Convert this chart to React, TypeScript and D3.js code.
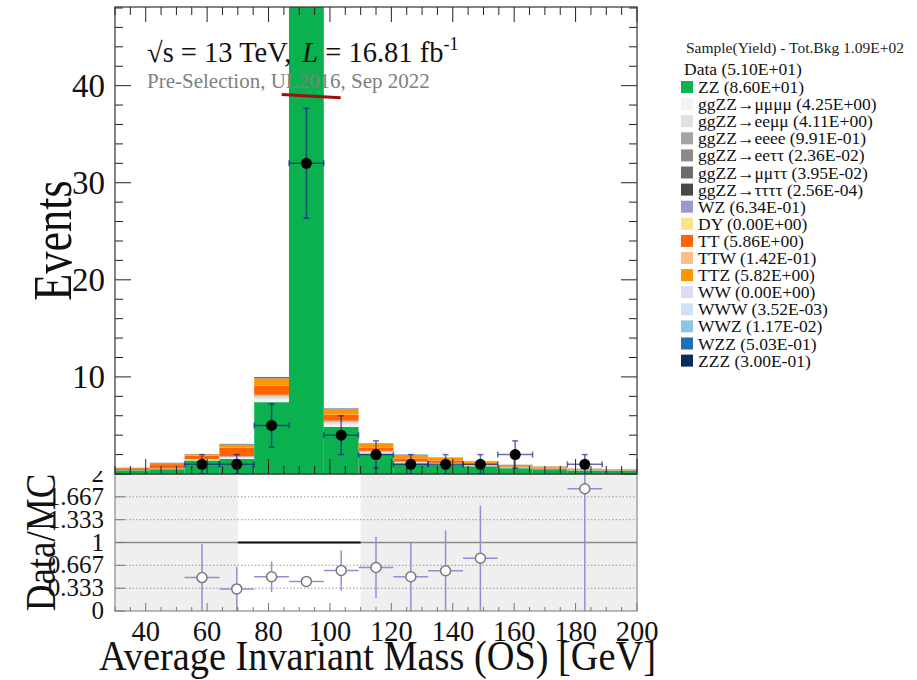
import React from 'react';
import * as d3 from 'd3';

// Bin edges of the average invariant mass histogram [GeV]
const binEdges = [30, 41.33, 52.67, 64, 75.33, 86.67, 98, 109.33, 120.67, 132, 143.33, 154.67, 166, 177.33, 188.67, 200];

// Observed events per bin
const dataCounts = [0, 0, 1, 1, 5, 32, 4, 2, 1, 1, 1, 2, 0, 1, 0];

// Expected yields per bin, one array per process (stacked bottom to top)
const zz = [0.38, 0.5, 1.4, 1.55, 7.4, 63.09, 4.85, 2.1, 1.1, 1.0, 0.8, 0.6, 0.5, 0.36, 0.35];
const ggZZ4mu = [0.01, 0.02, 0.05, 0.1, 0.3, 3.202, 0.25, 0.1, 0.06, 0.05, 0.04, 0.03, 0.02, 0.01, 0.01];
const ggZZ2e2mu = [0.01, 0.02, 0.05, 0.1, 0.3, 3.06, 0.25, 0.1, 0.06, 0.05, 0.04, 0.03, 0.02, 0.01, 0.01];
const ggZZ4e = [0, 0.005, 0.01, 0.03, 0.07, 0.72, 0.06, 0.03, 0.02, 0.015, 0.01, 0.008, 0.006, 0.004, 0.003];
const ggZZ2e2tau = [0, 0, 0.002, 0.003, 0.004, 0.005, 0.004, 0.002, 0.001, 0.001, 0.0006, 0.0005, 0.0002, 0.0002, 0.0001];
const ggZZ2mu2tau = [0, 0.001, 0.003, 0.005, 0.007, 0.008, 0.006, 0.004, 0.002, 0.0015, 0.001, 0.0005, 0.0003, 0.0001, 0.0001];
const ggZZ4tau = [0, 0, 0, 0, 0.0001, 0.000156, 0, 0, 0, 0, 0, 0, 0, 0, 0];
const wz = [0.01, 0.02, 0.03, 0.05, 0.08, 0.18, 0.08, 0.05, 0.04, 0.03, 0.02, 0.015, 0.012, 0.01, 0.007];
const dy = [0, 0, 0, 0, 0, 0, 0, 0, 0, 0, 0, 0, 0, 0, 0];
const tt = [0.18, 0.45, 0.35, 0.85, 0.9, 1.1, 0.6, 0.35, 0.33, 0.25, 0.18, 0.11, 0.09, 0.07, 0.05];
const ttw = [0, 0.01, 0.01, 0.02, 0.02, 0.017, 0.015, 0.01, 0.01, 0.008, 0.006, 0.005, 0.004, 0.004, 0.003];
const ttz = [0.05, 0.1, 0.12, 0.33, 0.78, 2.33, 0.58, 0.36, 0.34, 0.27, 0.18, 0.13, 0.11, 0.08, 0.06];
const ww = [0, 0, 0, 0, 0, 0, 0, 0, 0, 0, 0, 0, 0, 0, 0];
const www = [0, 0, 0, 0.0005, 0.001, 0.0012, 0.0005, 0.00032, 0, 0, 0, 0, 0, 0, 0];
const wwz = [0.0003, 0.0005, 0.0007, 0.001, 0.002, 0.003, 0.0015, 0.0008, 0.0006, 0.0004, 0.0003, 0.0002, 0.0002, 0.0001, 0.0001];
const wzz = [0.005, 0.014, 0.015, 0.04, 0.08, 0.198, 0.035, 0.03, 0.025, 0.015, 0.012, 0.012, 0.01, 0.008, 0.004];
const zzz = [0.005, 0.01, 0.01, 0.02, 0.05, 0.117, 0.02, 0.014, 0.012, 0.01, 0.01, 0.009, 0.006, 0.004, 0.003];

const processNames = ['ZZ', 'ggZZ\u2192\u03bc\u03bc\u03bc\u03bc', 'ggZZ\u2192ee\u03bc\u03bc', 'ggZZ\u2192eeee', 'ggZZ\u2192ee\u03c4\u03c4', 'ggZZ\u2192\u03bc\u03bc\u03c4\u03c4', 'ggZZ\u2192\u03c4\u03c4\u03c4\u03c4', 'WZ', 'DY', 'TT', 'TTW', 'TTZ', 'WW', 'WWW', 'WWZ', 'WZZ', 'ZZZ'];
const processColors = ['#0bb04f', '#f3f3f3', '#e0e0e0', '#a4a4a4', '#8a8a8a', '#6c6c6c', '#484848', '#9b98cc', '#fde38a', '#ff6400', '#fdbf86', '#ff9500', '#dcdcf4', '#cfe2f3', '#8ec6e0', '#1f6fb4', '#0b2d5b'];
const processValues = [zz, ggZZ4mu, ggZZ2e2mu, ggZZ4e, ggZZ2e2tau, ggZZ2mu2tau, ggZZ4tau, wz, dy, tt, ttw, ttz, ww, www, wwz, wzz, zzz];

// Axis ticks and labels
const xTickLabels = [40, 60, 80, 100, 120, 140, 160, 180, 200];
const yTickLabels = [10, 20, 30, 40];
const ratioTicks = [0, 0.333, 0.667, 1, 1.333, 1.667, 2];
const ratioTickLabels = ['0', '0.333', '0.667', '1', '1.333', '1.667', '2'];
const ratioGrid = [0.333, 0.667, 1.333, 1.667];
// Mass window left unshaded in the ratio pad
const zWindow = [70, 110];
// Line drawn across the peak (mass, events)
const peakLine = [
  { m: 84.3, v: 39.1 },
  { m: 103.5, v: 38.76 },
];

const FONT = "'Liberation Serif', 'Times New Roman', serif";

function sci(v: number): string {
  const [mant, ex] = v.toExponential(2).split('e');
  const n = parseInt(ex, 10);
  return `${mant}E${n < 0 ? '-' : '+'}${String(Math.abs(n)).padStart(2, '0')}`;
}

export default function App() {
  const L = 115, R = 637, T = 7, MID = 474, B = 611;
  const x = d3.scaleLinear().domain([30, 200]).range([L, R]);
  const y = d3.scaleLinear().domain([0, 48.1]).range([MID, T]);
  const yr = d3.scaleLinear().domain([0, 2]).range([B, MID]);

  const nb = dataCounts.length;
  const bins = d3.range(nb).map((i) => ({ lo: binEdges[i], hi: binEdges[i + 1], c: (binEdges[i] + binEdges[i + 1]) / 2 }));
  const totals = bins.map((_, i) => d3.sum(processValues, (p) => p[i]));
  const totBkg = d3.sum(totals);
  const totData = d3.sum(dataCounts);

  // stacked rectangles
  const stackRects: JSX.Element[] = [];
  bins.forEach((b, i) => {
    let base = 0;
    processValues.forEach((vals, k) => {
      const v = vals[i];
      if (v <= 0) return;
      const y0 = y(base), y1 = y(base + v);
      stackRects.push(
        <rect key={`s${i}-${k}`} x={x(b.lo)} y={y1} width={x(b.hi) - x(b.lo)} height={Math.max(0, y0 - y1)} fill={processColors[k]} />
      );
      base += v;
    });
  });

  // main-pad ticks
  const xMinor = d3.range(30, 201, 5);
  const yMinor = d3.range(0, 48.1, 2);
  const mainTicks: JSX.Element[] = [];
  xMinor.forEach((m) => {
    const len = m % 20 === 0 ? 15 : 8;
    mainTicks.push(<line key={`xb${m}`} x1={x(m)} x2={x(m)} y1={MID} y2={MID - len} />);
    mainTicks.push(<line key={`xt${m}`} x1={x(m)} x2={x(m)} y1={T} y2={T + len} />);
  });
  yMinor.forEach((v) => {
    const len = v % 10 === 0 ? 16 : 8;
    mainTicks.push(<line key={`yl${v}`} x1={L} x2={L + len} y1={y(v)} y2={y(v)} />);
    mainTicks.push(<line key={`yr${v}`} x1={R} x2={R - len} y1={y(v)} y2={y(v)} />);
  });

  const errColor = 'rgba(20,20,140,0.62)';
  const cap = 3;

  const legendRows = processNames.map((n, k) => ({ name: n, color: processColors[k], y: d3.sum(processValues[k]) }));

  return (
    <svg width={917} height={680} style={{ position: 'absolute', left: 0, top: 0, background: '#fff' }} fontFamily={FONT}>
      <defs>
        <clipPath id="mainClip">
          <rect x={L} y={T} width={R - L} height={MID - T} />
        </clipPath>
        <clipPath id="ratioClip">
          <rect x={L} y={MID} width={R - L} height={B - MID} />
        </clipPath>
      </defs>
      <rect x={0} y={0} width={917} height={680} fill="#fff" />

      {/* ratio pad */}
      <g>
        <rect x={L} y={MID} width={R - L} height={B - MID} fill="#fff" />
        <rect x={L} y={MID} width={x(zWindow[0]) - L} height={B - MID} fill="#efefef" />
        <rect x={x(zWindow[1])} y={MID} width={R - x(zWindow[1])} height={B - MID} fill="#efefef" />
        {ratioGrid.map((g) => (
          <line key={`g${g}`} x1={L} x2={R} y1={yr(g)} y2={yr(g)} stroke="#9a9a9a" strokeWidth={1} strokeDasharray="1.5,2" />
        ))}
        <line x1={L} x2={R} y1={yr(1)} y2={yr(1)} stroke="#8a8a8a" strokeWidth={1.4} />
        <line x1={x(zWindow[0])} x2={x(zWindow[1])} y1={yr(1)} y2={yr(1)} stroke="#111" strokeWidth={2} />
        <g clipPath="url(#ratioClip)">
          {bins.map((b, i) => {
            const n = dataCounts[i];
            const tot = totals[i];
            if (n <= 0 || tot <= 0) return null;
            const r = n / tot;
            if (r > 2) return null;
            const er = Math.sqrt(n) / tot;
            return (
              <g key={`r${i}`}>
                <line x1={x(b.c)} x2={x(b.c)} y1={yr(Math.max(0, r - er))} y2={yr(Math.min(2.05, r + er))} stroke="#8f8fd6" strokeWidth={1.5} />
                <line x1={x(b.lo)} x2={x(b.hi)} y1={yr(r)} y2={yr(r)} stroke="#8f8fd6" strokeWidth={1.5} />
                <circle cx={x(b.c)} cy={yr(r)} r={5} fill="#fff" stroke="#7a7a7a" strokeWidth={1.5} />
              </g>
            );
          })}
        </g>
        <rect x={L} y={MID} width={R - L} height={B - MID} fill="none" stroke="#8a8a8a" strokeWidth={1.2} />
        <g stroke="#777" strokeWidth={1}>
          {xMinor.map((m) => (
            <line key={`rx${m}`} x1={x(m)} x2={x(m)} y1={B} y2={B - (m % 20 === 0 ? 8 : 4)} />
          ))}
          {ratioTicks.map((t) => (
            <line key={`ry${t}`} x1={L} x2={L + 10} y1={yr(t)} y2={yr(t)} />
          ))}
        </g>
        <g fontSize={25} textAnchor="end" fill="#111">
          {ratioTicks.map((t, k) => (
            <text key={`rl${t}`} x={104} y={yr(t) + 8}>{ratioTickLabels[k]}</text>
          ))}
        </g>
        <g fontSize={28.5} textAnchor="middle" fill="#111">
          {xTickLabels.map((m) => (
            <text key={`xl${m}`} x={x(m)} y={641}>{m}</text>
          ))}
        </g>
        <text transform={`translate(55,${(MID + B) / 2}) rotate(-90) scale(0.86,1)`} textAnchor="middle" fontSize={43} fill="#111">Data/MC</text>
        <text transform="translate(656,670) scale(0.913,1)" textAnchor="end" fontSize={42} fill="#111">Average Invariant Mass (OS) [GeV]</text>
      </g>

      {/* main pad */}
      <rect x={0} y={0} width={L - 1} height={471} fill="#fff" />
      <rect x={L} y={T} width={R - L} height={MID - T} fill="#fff" />
      <g clipPath="url(#mainClip)">
        {stackRects}
        {bins.map((b, i) => {
          const n = dataCounts[i];
          if (n <= 0) return null;
          const e = Math.sqrt(n);
          const cx = x(b.c), cy = y(n);
          const yl = y(Math.max(0, n - e)), yh = y(n + e);
          return (
            <g key={`d${i}`} stroke={errColor} strokeWidth={1.5}>
              <line x1={cx} x2={cx} y1={yl} y2={yh} />
              <line x1={cx - cap} x2={cx + cap} y1={yh} y2={yh} />
              <line x1={cx - cap} x2={cx + cap} y1={yl} y2={yl} />
              <line x1={x(b.lo)} x2={x(b.hi)} y1={cy} y2={cy} />
              <line x1={x(b.lo)} x2={x(b.lo)} y1={cy - cap} y2={cy + cap} />
              <line x1={x(b.hi)} x2={x(b.hi)} y1={cy - cap} y2={cy + cap} />
              <circle cx={cx} cy={cy} r={5.5} fill="#000" stroke="none" />
            </g>
          );
        })}
        <line x1={x(peakLine[0].m)} y1={y(peakLine[0].v)} x2={x(peakLine[1].m)} y2={y(peakLine[1].v)} stroke="#9e0f0f" strokeWidth={3} />
      </g>
      <g stroke="#222" strokeWidth={1}>{mainTicks}</g>
      <rect x={L} y={T} width={R - L} height={MID - T} fill="none" stroke="#333" strokeWidth={1.2} />
      <g fontSize={33} textAnchor="end" fill="#111">
        {yTickLabels.map((v) => (
          <text key={`yl${v}`} x={105} y={y(v) + 11}>{v}</text>
        ))}
      </g>
      <text transform={`translate(71,${(T + MID) / 2}) rotate(-90) scale(0.82,1)`} textAnchor="middle" fontSize={54} fill="#111">Events</text>

      {/* header */}
      <text x={147} y={62} fontSize={28.5} fill="#111">
        <tspan>{'\u221As = 13 TeV,'}</tspan>
        <tspan dx={11} fontStyle="italic">L</tspan>
        <tspan>{' = 16.81 fb'}</tspan>
        <tspan fontSize={18} dy={-12}>{'-1'}</tspan>
      </text>
      <text x={147} y={88} fontSize={21} fill="#808080">Pre-Selection, UL2016, Sep 2022</text>

      {/* legend */}
      <text x={686} y={53} fontSize={15.5} fill="#222">{`Sample(Yield) - Tot.Bkg ${sci(totBkg)}`}</text>
      <text x={684} y={75} fontSize={17.5} fill="#111">{`Data (${sci(totData)})`}</text>
      {legendRows.map((row, k) => {
        const cy = 87 + k * 17.1;
        return (
          <g key={`lg${k}`}>
            <rect x={681} y={cy - 6} width={12} height={12} fill={row.color} />
            <text x={698} y={cy + 6} fontSize={17.5} fill="#111">{`${row.name} (${sci(row.y)})`}</text>
          </g>
        );
      })}
    </svg>
  );
}
